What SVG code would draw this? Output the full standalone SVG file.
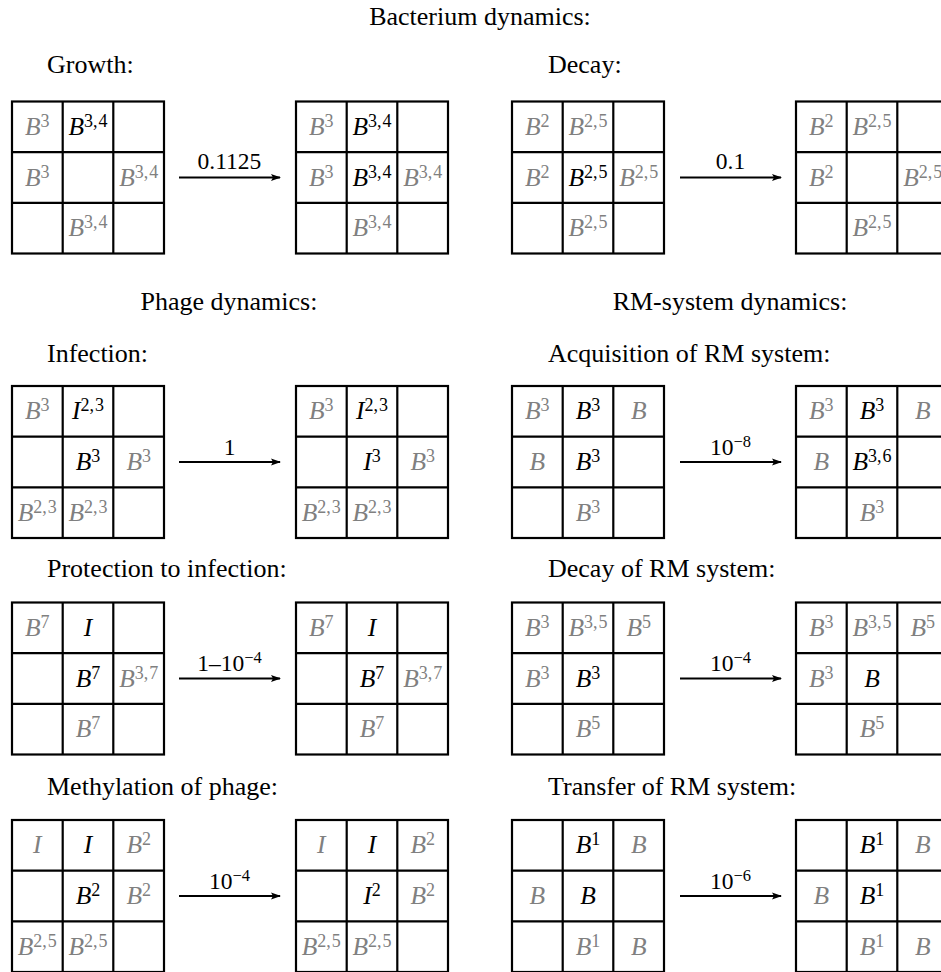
<svg xmlns="http://www.w3.org/2000/svg" xmlns:xlink="http://www.w3.org/1999/xlink" width="941" height="972" viewBox="0 0 941 972">
<style>
text{font-family:"Liberation Serif","Times New Roman",serif;}
.h{font-size:26px;fill:#000;}
.hc{text-anchor:middle;}
.c{font-size:25.5px;font-style:italic;text-anchor:middle;}
.g{fill:#808080;}
.k{fill:#000;}
.s{font-size:18px;font-style:normal;}
.ls{font-size:16.5px;}
.lab{font-size:23.5px;text-anchor:middle;fill:#000;}
.grid{fill:none;stroke:#000;stroke-width:2.2;}
.arr{stroke:#000;stroke-width:2;fill:none;}
</style>
<defs>
<g id="gridshape">
<rect class="grid" x="0" y="0" width="152" height="152"/>
<path class="grid" d="M50.7,0V152M101.3,0V152M0,50.7H152M0,101.3H152"/>
</g>
<marker id="ah" markerUnits="userSpaceOnUse" markerWidth="12" markerHeight="10" refX="9" refY="4" orient="auto">
<path d="M0,0.5 L10,4 L0,7.5 L2,4 z" fill="#000"/>
</marker>
</defs>
<rect width="941" height="972" fill="#fff"/>

<g id="headings">
<text class="h hc" x="480" y="25">Bacterium dynamics:</text>
<text class="h" x="47" y="73">Growth:</text>
<text class="h" x="548" y="73">Decay:</text>
<text class="h hc" x="229" y="310">Phage dynamics:</text>
<text class="h hc" x="730" y="310">RM-system dynamics:</text>
<text class="h" x="47" y="362">Infection:</text>
<text class="h" x="548" y="362">Acquisition of RM system:</text>
<text class="h" x="47" y="577">Protection to infection:</text>
<text class="h" x="548" y="577">Decay of RM system:</text>
<text class="h" x="47" y="795">Methylation of phage:</text>
<text class="h" x="548" y="795">Transfer of RM system:</text>
</g>

<g id="growth-before">
<use xlink:href="#gridshape" x="12" y="101.5"/>
<text class="c g" x="37.3" y="134.8">B<tspan class="s" dy="-8">3</tspan></text>
<text class="c k" x="88" y="134.8">B<tspan class="s" dy="-8">3,</tspan><tspan class="s" dx="1">4</tspan></text>
<text class="c g" x="37.3" y="185.5">B<tspan class="s" dy="-8">3</tspan></text>
<text class="c g" x="138.7" y="185.5">B<tspan class="s" dy="-8">3,</tspan><tspan class="s" dx="1">4</tspan></text>
<text class="c g" x="88" y="236.2">B<tspan class="s" dy="-8">3,</tspan><tspan class="s" dx="1">4</tspan></text>
</g>
<g id="growth-after">
<use xlink:href="#gridshape" x="296" y="101.5"/>
<text class="c g" x="321.3" y="134.8">B<tspan class="s" dy="-8">3</tspan></text>
<text class="c k" x="372" y="134.8">B<tspan class="s" dy="-8">3,</tspan><tspan class="s" dx="1">4</tspan></text>
<text class="c g" x="321.3" y="185.5">B<tspan class="s" dy="-8">3</tspan></text>
<text class="c k" x="372" y="185.5">B<tspan class="s" dy="-8">3,</tspan><tspan class="s" dx="1">4</tspan></text>
<text class="c g" x="422.7" y="185.5">B<tspan class="s" dy="-8">3,</tspan><tspan class="s" dx="1">4</tspan></text>
<text class="c g" x="372" y="236.2">B<tspan class="s" dy="-8">3,</tspan><tspan class="s" dx="1">4</tspan></text>
</g>
<g id="decay-before">
<use xlink:href="#gridshape" x="512" y="101.5"/>
<text class="c g" x="537.3" y="134.8">B<tspan class="s" dy="-8">2</tspan></text>
<text class="c g" x="588" y="134.8">B<tspan class="s" dy="-8">2,</tspan><tspan class="s" dx="1">5</tspan></text>
<text class="c g" x="537.3" y="185.5">B<tspan class="s" dy="-8">2</tspan></text>
<text class="c k" x="588" y="185.5">B<tspan class="s" dy="-8">2,</tspan><tspan class="s" dx="1">5</tspan></text>
<text class="c g" x="638.7" y="185.5">B<tspan class="s" dy="-8">2,</tspan><tspan class="s" dx="1">5</tspan></text>
<text class="c g" x="588" y="236.2">B<tspan class="s" dy="-8">2,</tspan><tspan class="s" dx="1">5</tspan></text>
</g>
<g id="decay-after">
<use xlink:href="#gridshape" x="796" y="101.5"/>
<text class="c g" x="821.3" y="134.8">B<tspan class="s" dy="-8">2</tspan></text>
<text class="c g" x="872" y="134.8">B<tspan class="s" dy="-8">2,</tspan><tspan class="s" dx="1">5</tspan></text>
<text class="c g" x="821.3" y="185.5">B<tspan class="s" dy="-8">2</tspan></text>
<text class="c g" x="922.7" y="185.5">B<tspan class="s" dy="-8">2,</tspan><tspan class="s" dx="1">5</tspan></text>
<text class="c g" x="872" y="236.2">B<tspan class="s" dy="-8">2,</tspan><tspan class="s" dx="1">5</tspan></text>
</g>

<g id="infection-before">
<use xlink:href="#gridshape" x="12" y="386"/>
<text class="c g" x="37.3" y="419.3">B<tspan class="s" dy="-8">3</tspan></text>
<text class="c k" x="88" y="419.3">I<tspan class="s" dy="-8">2,</tspan><tspan class="s" dx="1">3</tspan></text>
<text class="c k" x="88" y="470">B<tspan class="s" dy="-8">3</tspan></text>
<text class="c g" x="138.7" y="470">B<tspan class="s" dy="-8">3</tspan></text>
<text class="c g" x="37.3" y="520.7">B<tspan class="s" dy="-8">2,</tspan><tspan class="s" dx="1">3</tspan></text>
<text class="c g" x="88" y="520.7">B<tspan class="s" dy="-8">2,</tspan><tspan class="s" dx="1">3</tspan></text>
</g>
<g id="infection-after">
<use xlink:href="#gridshape" x="296" y="386"/>
<text class="c g" x="321.3" y="419.3">B<tspan class="s" dy="-8">3</tspan></text>
<text class="c k" x="372" y="419.3">I<tspan class="s" dy="-8">2,</tspan><tspan class="s" dx="1">3</tspan></text>
<text class="c k" x="372" y="470">I<tspan class="s" dy="-8">3</tspan></text>
<text class="c g" x="422.7" y="470">B<tspan class="s" dy="-8">3</tspan></text>
<text class="c g" x="321.3" y="520.7">B<tspan class="s" dy="-8">2,</tspan><tspan class="s" dx="1">3</tspan></text>
<text class="c g" x="372" y="520.7">B<tspan class="s" dy="-8">2,</tspan><tspan class="s" dx="1">3</tspan></text>
</g>
<g id="acquisition-before">
<use xlink:href="#gridshape" x="512" y="386"/>
<text class="c g" x="537.3" y="419.3">B<tspan class="s" dy="-8">3</tspan></text>
<text class="c k" x="588" y="419.3">B<tspan class="s" dy="-8">3</tspan></text>
<text class="c g" x="638.7" y="419.3">B</text>
<text class="c g" x="537.3" y="470">B</text>
<text class="c k" x="588" y="470">B<tspan class="s" dy="-8">3</tspan></text>
<text class="c g" x="588" y="520.7">B<tspan class="s" dy="-8">3</tspan></text>
</g>
<g id="acquisition-after">
<use xlink:href="#gridshape" x="796" y="386"/>
<text class="c g" x="821.3" y="419.3">B<tspan class="s" dy="-8">3</tspan></text>
<text class="c k" x="872" y="419.3">B<tspan class="s" dy="-8">3</tspan></text>
<text class="c g" x="922.7" y="419.3">B</text>
<text class="c g" x="821.3" y="470">B</text>
<text class="c k" x="872" y="470">B<tspan class="s" dy="-8">3,</tspan><tspan class="s" dx="1">6</tspan></text>
<text class="c g" x="872" y="520.7">B<tspan class="s" dy="-8">3</tspan></text>
</g>

<g id="protection-before">
<use xlink:href="#gridshape" x="12" y="602.5"/>
<text class="c g" x="37.3" y="635.8">B<tspan class="s" dy="-8">7</tspan></text>
<text class="c k" x="88" y="635.8">I</text>
<text class="c k" x="88" y="686.5">B<tspan class="s" dy="-8">7</tspan></text>
<text class="c g" x="138.7" y="686.5">B<tspan class="s" dy="-8">3,</tspan><tspan class="s" dx="1">7</tspan></text>
<text class="c g" x="88" y="737.2">B<tspan class="s" dy="-8">7</tspan></text>
</g>
<g id="protection-after">
<use xlink:href="#gridshape" x="296" y="602.5"/>
<text class="c g" x="321.3" y="635.8">B<tspan class="s" dy="-8">7</tspan></text>
<text class="c k" x="372" y="635.8">I</text>
<text class="c k" x="372" y="686.5">B<tspan class="s" dy="-8">7</tspan></text>
<text class="c g" x="422.7" y="686.5">B<tspan class="s" dy="-8">3,</tspan><tspan class="s" dx="1">7</tspan></text>
<text class="c g" x="372" y="737.2">B<tspan class="s" dy="-8">7</tspan></text>
</g>
<g id="rmdecay-before">
<use xlink:href="#gridshape" x="512" y="602.5"/>
<text class="c g" x="537.3" y="635.8">B<tspan class="s" dy="-8">3</tspan></text>
<text class="c g" x="588" y="635.8">B<tspan class="s" dy="-8">3,</tspan><tspan class="s" dx="1">5</tspan></text>
<text class="c g" x="638.7" y="635.8">B<tspan class="s" dy="-8">5</tspan></text>
<text class="c g" x="537.3" y="686.5">B<tspan class="s" dy="-8">3</tspan></text>
<text class="c k" x="588" y="686.5">B<tspan class="s" dy="-8">3</tspan></text>
<text class="c g" x="588" y="737.2">B<tspan class="s" dy="-8">5</tspan></text>
</g>
<g id="rmdecay-after">
<use xlink:href="#gridshape" x="796" y="602.5"/>
<text class="c g" x="821.3" y="635.8">B<tspan class="s" dy="-8">3</tspan></text>
<text class="c g" x="872" y="635.8">B<tspan class="s" dy="-8">3,</tspan><tspan class="s" dx="1">5</tspan></text>
<text class="c g" x="922.7" y="635.8">B<tspan class="s" dy="-8">5</tspan></text>
<text class="c g" x="821.3" y="686.5">B<tspan class="s" dy="-8">3</tspan></text>
<text class="c k" x="872" y="686.5">B</text>
<text class="c g" x="872" y="737.2">B<tspan class="s" dy="-8">5</tspan></text>
</g>

<g id="methylation-before">
<use xlink:href="#gridshape" x="12" y="820"/>
<text class="c g" x="37.3" y="853.3">I</text>
<text class="c k" x="88" y="853.3">I</text>
<text class="c g" x="138.7" y="853.3">B<tspan class="s" dy="-8">2</tspan></text>
<text class="c k" x="88" y="904">B<tspan class="s" dy="-8">2</tspan></text>
<text class="c g" x="138.7" y="904">B<tspan class="s" dy="-8">2</tspan></text>
<text class="c g" x="37.3" y="954.7">B<tspan class="s" dy="-8">2,</tspan><tspan class="s" dx="1">5</tspan></text>
<text class="c g" x="88" y="954.7">B<tspan class="s" dy="-8">2,</tspan><tspan class="s" dx="1">5</tspan></text>
</g>
<g id="methylation-after">
<use xlink:href="#gridshape" x="296" y="820"/>
<text class="c g" x="321.3" y="853.3">I</text>
<text class="c k" x="372" y="853.3">I</text>
<text class="c g" x="422.7" y="853.3">B<tspan class="s" dy="-8">2</tspan></text>
<text class="c k" x="372" y="904">I<tspan class="s" dy="-8">2</tspan></text>
<text class="c g" x="422.7" y="904">B<tspan class="s" dy="-8">2</tspan></text>
<text class="c g" x="321.3" y="954.7">B<tspan class="s" dy="-8">2,</tspan><tspan class="s" dx="1">5</tspan></text>
<text class="c g" x="372" y="954.7">B<tspan class="s" dy="-8">2,</tspan><tspan class="s" dx="1">5</tspan></text>
</g>
<g id="transfer-before">
<use xlink:href="#gridshape" x="512" y="820"/>
<text class="c k" x="588" y="853.3">B<tspan class="s" dy="-8">1</tspan></text>
<text class="c g" x="638.7" y="853.3">B</text>
<text class="c g" x="537.3" y="904">B</text>
<text class="c k" x="588" y="904">B</text>
<text class="c g" x="588" y="954.7">B<tspan class="s" dy="-8">1</tspan></text>
<text class="c g" x="638.7" y="954.7">B</text>
</g>
<g id="transfer-after">
<use xlink:href="#gridshape" x="796" y="820"/>
<text class="c k" x="872" y="853.3">B<tspan class="s" dy="-8">1</tspan></text>
<text class="c g" x="922.7" y="853.3">B</text>
<text class="c g" x="821.3" y="904">B</text>
<text class="c k" x="872" y="904">B<tspan class="s" dy="-8">1</tspan></text>
<text class="c g" x="872" y="954.7">B<tspan class="s" dy="-8">1</tspan></text>
<text class="c g" x="922.7" y="954.7">B</text>
</g>

<g id="connectors">
<line class="arr" x1="179" y1="177.5" x2="280" y2="177.5" marker-end="url(#ah)"/>
<text class="lab" x="229.5" y="169">0.1125</text>
<line class="arr" x1="680" y1="177.5" x2="781" y2="177.5" marker-end="url(#ah)"/>
<text class="lab" x="730.5" y="169">0.1</text>
<line class="arr" x1="179" y1="462" x2="280" y2="462" marker-end="url(#ah)"/>
<text class="lab" x="229.5" y="454.5">1</text>
<line class="arr" x1="680" y1="462" x2="781" y2="462" marker-end="url(#ah)"/>
<text class="lab" x="730.5" y="455">10<tspan class="ls" dy="-8">−8</tspan></text>
<line class="arr" x1="179" y1="678.5" x2="280" y2="678.5" marker-end="url(#ah)"/>
<text class="lab" x="229.5" y="671">1–10<tspan class="ls" dy="-8">−4</tspan></text>
<line class="arr" x1="680" y1="678.5" x2="781" y2="678.5" marker-end="url(#ah)"/>
<text class="lab" x="730.5" y="671">10<tspan class="ls" dy="-8">−4</tspan></text>
<line class="arr" x1="179" y1="896" x2="280" y2="896" marker-end="url(#ah)"/>
<text class="lab" x="229.5" y="888.5">10<tspan class="ls" dy="-8">−4</tspan></text>
<line class="arr" x1="680" y1="896" x2="781" y2="896" marker-end="url(#ah)"/>
<text class="lab" x="730.5" y="888.5">10<tspan class="ls" dy="-8">−6</tspan></text>
</g>
</svg>
